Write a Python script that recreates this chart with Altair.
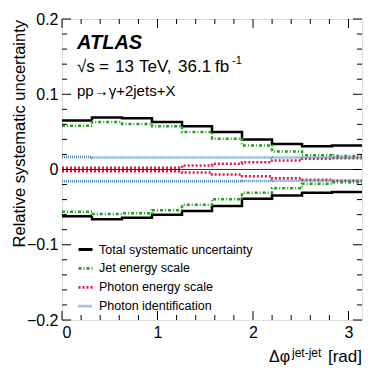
import altair as alt
import pandas as pd

# ---- data ----
bin_edges = [0.0, 0.31416, 0.62832, 0.94248, 1.25664, 1.5708, 1.88496, 2.19911, 2.51327, 2.82743, 3.14159]

total_up = [0.065, 0.069, 0.068, 0.063, 0.0575, 0.050, 0.040, 0.034, 0.031, 0.032]
total_dn = [-0.062, -0.066, -0.064, -0.060, -0.055, -0.0485, -0.039, -0.0346, -0.031, -0.030]
jes_up = [0.058, 0.063, 0.0606, 0.0575, 0.050, 0.041, 0.032, 0.024, 0.019, 0.018]
jes_dn = [-0.056, -0.059, -0.058, -0.054, -0.047, -0.0395, -0.031, -0.025, -0.019, -0.017]
pes_up = [0.0022, 0.0022, 0.0022, 0.0022, 0.0054, 0.0077, 0.0098, 0.012, 0.0144, 0.015]
pes_dn = [-0.0022, -0.0022, -0.0022, -0.0022, -0.004, -0.0067, -0.009, -0.0117, -0.0135, -0.015]
pid_up = [0.0165, 0.016, 0.016, 0.016, 0.016, 0.016, 0.016, 0.0158, 0.0158, 0.0158]
pid_dn = [-0.0155, -0.0155, -0.0155, -0.0155, -0.0155, -0.0155, -0.0152, -0.015, -0.015, -0.015]

sources = ["Total systematic uncertainty", "Jet energy scale",
           "Photon energy scale", "Photon identification"]
colors = ["#000000", "#1fa01f", "#e3173e", "#4a88bb"]
dashes = [[1, 0], [3, 2, 1, 2], [2, 2], [1, 1]]

x_major = [0, 1, 2, 3]
x_minor = [0.2, 0.4, 0.6, 0.8, 1.2, 1.4, 1.6, 1.8, 2.2, 2.4, 2.6, 2.8]
y_major = [-0.2, -0.1, 0.0, 0.1, 0.2]
y_minor = [-0.18, -0.16, -0.14, -0.12, -0.08, -0.06, -0.04, -0.02,
           0.02, 0.04, 0.06, 0.08, 0.12, 0.14, 0.16, 0.18]

FONT = "Liberation Sans"
W, H = 300, 301

rows = []
for name, up, dn in [(sources[0], total_up, total_dn), (sources[1], jes_up, jes_dn),
                     (sources[2], pes_up, pes_dn), (sources[3], pid_up, pid_dn)]:
    for side, vals in (("up", up), ("down", dn)):
        for i, e in enumerate(bin_edges):
            rows.append({"source": name, "side": side, "x": e,
                         "y": vals[min(i, len(vals) - 1)], "o": i})
df = pd.DataFrame(rows)

xs = alt.Scale(domain=[0, 3.14159], nice=False, zero=False)
ys = alt.Scale(domain=[-0.2, 0.2], nice=False, zero=False)
xax = alt.Axis(values=x_major, title=None, ticks=False, tickSize=0, domain=False, grid=False,
               labelFont=FONT, labelFontSize=16, labelColor="black", labelPadding=4, format="d")
yax = alt.Axis(values=y_major, title=None, ticks=False, tickSize=0, domain=False, grid=False,
               labelFont=FONT, labelFontSize=16, labelColor="black", labelPadding=4, format="~g")

leg = alt.Legend(title=None, orient="none", legendX=15, legendY=222, symbolType="stroke",
                 symbolSize=196, symbolStrokeWidth=2.8, labelFont=FONT, labelFontSize=12.5,
                 labelColor="black", rowPadding=3.9, labelOffset=5, padding=0, labelLimit=400)

lines = alt.Chart(df).mark_line(interpolate="step-after", strokeCap="butt", strokeWidth=2.5).encode(
    x=alt.X("x:Q", scale=xs, axis=xax),
    y=alt.Y("y:Q", scale=ys, axis=yax),
    color=alt.Color("source:N", scale=alt.Scale(domain=sources, range=colors), legend=leg),
    strokeDash=alt.StrokeDash("source:N", scale=alt.Scale(domain=sources, range=dashes), legend=leg),
    detail="side:N",
    order="o:Q",
)

zero = alt.Chart(pd.DataFrame({"y": [0.0]})).mark_rule(color="#333333", strokeWidth=1.2).encode(
    y=alt.Y("y:Q", scale=ys, axis=yax))

def yticks(vals, ln):
    d = pd.DataFrame({"y": vals})
    left = alt.Chart(d).mark_rule(color="black", strokeWidth=1).encode(
        y=alt.Y("y:Q", scale=ys, axis=yax), x=alt.value(0), x2=alt.value(ln))
    right = alt.Chart(d).mark_rule(color="black", strokeWidth=1).encode(
        y=alt.Y("y:Q", scale=ys, axis=yax), x=alt.value(W), x2=alt.value(W - ln))
    return [left, right]

def xticks(vals, ln):
    d = pd.DataFrame({"x": vals})
    bot = alt.Chart(d).mark_rule(color="black", strokeWidth=1).encode(
        x=alt.X("x:Q", scale=xs, axis=xax), y=alt.value(H), y2=alt.value(H - ln))
    top = alt.Chart(d).mark_rule(color="black", strokeWidth=1).encode(
        x=alt.X("x:Q", scale=xs, axis=xax), y=alt.value(0), y2=alt.value(ln))
    return [bot, top]

def label(text, x, y, size, align="left", angle=0, weight="normal", style="normal", baseline="alphabetic"):
    return alt.Chart(pd.DataFrame({"t": [text]})).mark_text(
        align=align, baseline=baseline, font=FONT, fontSize=size, angle=angle,
        fontWeight=weight, fontStyle=style, color="black").encode(
        text="t:N", x=alt.value(x), y=alt.value(y))

texts = [
    label("ATLAS", 15, 30, 20, weight="bold", style="italic"),
    label("\u221as", 15, 52.5, 17),
    label("=", 37, 52.5, 17),
    label("13", 53, 52.5, 17),
    label("TeV,", 77, 52.5, 17),
    label("36.1", 116, 52.5, 17),
    label("fb", 153, 52.5, 17),
    label("-1", 170, 45, 11),
    label("pp\u2192\u03b3+2jets+X", 15, 77, 15),
    label("Relative systematic uncertainty", -37, 1, 16.5, align="right", angle=270),
    label("\u0394\u03c6", 228, 343, 16, align="right"),
    label("jet-jet", 230, 338, 12),
    label("[rad]", 300, 343, 17, align="right"),
]

layers = [lines, zero] + yticks(y_major, 9) + yticks(y_minor, 5) + xticks(x_major, 9) + xticks(x_minor, 5) + texts

chart = alt.layer(*layers).properties(
    width=W, height=H, autosize="none",
    padding={"left": 54, "top": 11, "right": 12, "bottom": 54},
).configure_view(stroke="black", strokeWidth=1.5).configure(background="white")

chart.save("out.html", embed_options={"renderer": "svg", "actions": False})
